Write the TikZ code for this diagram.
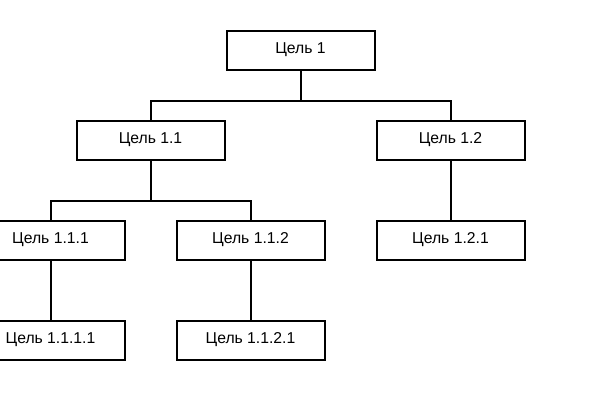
\documentclass[tikz,border=0pt]{standalone}
\usepackage{fontspec}
\setmainfont{Liberation Sans}

\tikzset{
	goal box/.style={draw, line width=1.5pt, fill=white, minimum width=111pt, minimum height=29.25pt, inner sep=0pt, font=\fontsize{11.8}{14}\selectfont},
	link/.style={line width=1.5pt}}
\tikzset{every picture/.style={line width=0.75pt}}

\begin{document}
\begin{tikzpicture}[x=0.75pt,y=0.75pt,yscale=-1,xscale=1]
	\useasboundingbox (0,0) rectangle (600,400);

	% Level 1
	\node [goal box] (g1) at (300.5,50) {Цель 1};
	% Level 2
	\node [goal box] (g11) at (150.5,140) {Цель 1.1};
	\node [goal box] (g12) at (450.5,140) {Цель 1.2};
	% Level 3
	\node [goal box] (g111) at (50.5,240) {Цель 1.1.1};
	\node [goal box] (g112) at (250.5,240) {Цель 1.1.2};
	\node [goal box] (g121) at (450.5,240) {Цель 1.2.1};
	% Level 4
	\node [goal box] (g1111) at (50.5,340) {Цель 1.1.1.1};
	\node [goal box] (g1121) at (250.5,340) {Цель 1.1.2.1};

	% Branch points
	\coordinate (b1) at (300.5,100.5);
	\coordinate (b11) at (150.5,200.5);

	% Connectors
	\draw [link] (g1.south) -- (b1) -| (g11.north);
	\draw [link] (b1) -| (g12.north);
	\draw [link] (g11.south) -- (b11) -| (g111.north);
	\draw [link] (b11) -| (g112.north);
	\draw [link] (g12.south) -- (g121.north);
	\draw [link] (g111.south) -- (g1111.north);
	\draw [link] (g112.south) -- (g1121.north);

\end{tikzpicture}
\end{document}
